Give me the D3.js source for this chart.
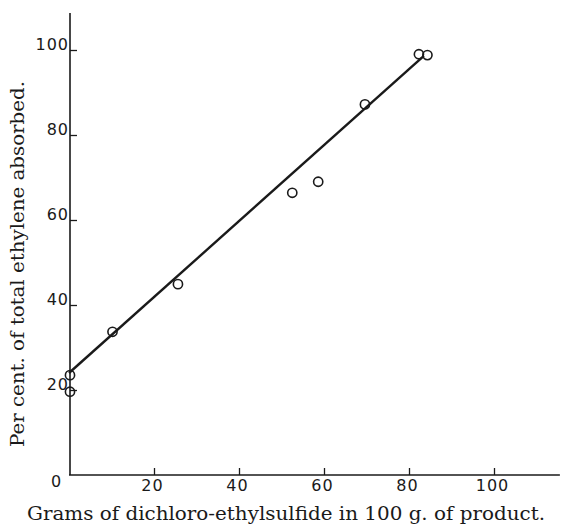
<!DOCTYPE html>
<html>
<head>
<meta charset="utf-8">
<script src="https://cdn.jsdelivr.net/npm/d3@7"></script>
<style>
  body { margin: 0; background: #fff; }
  svg { display: block; }
</style>
</head>
<body>
<script>
// grams of dichloro-ethylsulfide in 100 g of product
const gramsDCES = [0, 0, 10, 25.4, 52.3, 58.4, 69.4, 82.1, 84.1];
// per cent of total ethylene absorbed
const pctEthylene = [23.5, 19.6, 33.7, 44.9, 66.4, 69.0, 87.2, 99.0, 98.8];
// fitted straight line, two end points
const fitX = [0, 83.5];
const fitY = [24, 98.6];
const xTicks = [20, 40, 60, 80, 100];
const yTicks = [20, 40, 60, 80, 100];

const width = 567, height = 530;

const svg = d3.select("body").append("svg")
  .attr("width", width)
  .attr("height", height);

const x = d3.scaleLinear().domain([0, 100]).range([69, 494]);
const y = d3.scaleLinear().domain([0, 100]).range([475, 50]);

const ink = "#1a1a1a";
const tickFont = "'DejaVu Sans', sans-serif";
const labelFont = "'DejaVu Serif', serif";

// axes (ticks drawn inward, like the original)
const xAxis = d3.axisBottom(x).tickValues(xTicks).tickSize(-7).tickPadding(5).tickSizeOuter(0);
const yAxis = d3.axisLeft(y).tickValues(yTicks).tickSize(-7).tickPadding(1).tickSizeOuter(0);

const gx = svg.append("g").attr("transform", `translate(0,${y(0)})`).call(xAxis);
const gy = svg.append("g").attr("transform", `translate(${x(0) + 1},0)`).call(yAxis);

// stretch axis lines past the last tick
gx.select(".domain").attr("d", `M${x(0)},0H${x(115.5)}`);
gy.select(".domain").attr("d", `M0,${y(0)}V${y(108.7)}`);

[gx, gy].forEach(g => {
  g.select(".domain").attr("stroke", ink).attr("stroke-width", 1.6);
  g.selectAll(".tick line").attr("stroke", ink).attr("stroke-width", 1.3);
  g.selectAll(".tick text")
    .attr("fill", ink)
    .style("font-family", tickFont)
    .style("font-size", "16px")
    .style("letter-spacing", "1px");
});
gx.selectAll(".tick text").attr("dx", -2);
gy.selectAll(".tick text").attr("dy", "-0.05em");

// zero at the corner
svg.append("text")
  .attr("x", 56).attr("y", 487)
  .attr("text-anchor", "middle")
  .attr("fill", ink)
  .style("font-family", tickFont)
  .style("font-size", "16px")
  .text("0");

// fitted line
svg.append("line")
  .attr("x1", x(fitX[0])).attr("y1", y(fitY[0]))
  .attr("x2", x(fitX[1])).attr("y2", y(fitY[1]))
  .attr("stroke", ink)
  .attr("stroke-width", 2.4);

// observed points
svg.selectAll("circle.pt")
  .data(gramsDCES.map((g, i) => [g, pctEthylene[i]]))
  .enter()
  .append("circle")
  .attr("class", "pt")
  .attr("cx", d => x(d[0]) + 1)
  .attr("cy", d => y(d[1]))
  .attr("r", 4.6)
  .attr("fill", "none")
  .attr("stroke", ink)
  .attr("stroke-width", 1.6);

// axis titles
svg.append("text")
  .attr("x", 286).attr("y", 520)
  .attr("text-anchor", "middle")
  .attr("textLength", 518)
  .attr("lengthAdjust", "spacingAndGlyphs")
  .attr("fill", ink)
  .style("font-family", labelFont)
  .style("font-size", "19px")
  .text("Grams of dichloro-ethylsulfide in 100 g. of product.");

svg.append("text")
  .attr("transform", "translate(24,264) rotate(-90)")
  .attr("text-anchor", "middle")
  .attr("textLength", 366)
  .attr("lengthAdjust", "spacingAndGlyphs")
  .attr("fill", ink)
  .style("font-family", labelFont)
  .style("font-size", "19px")
  .text("Per cent. of total ethylene absorbed.");
</script>
</body>
</html>
